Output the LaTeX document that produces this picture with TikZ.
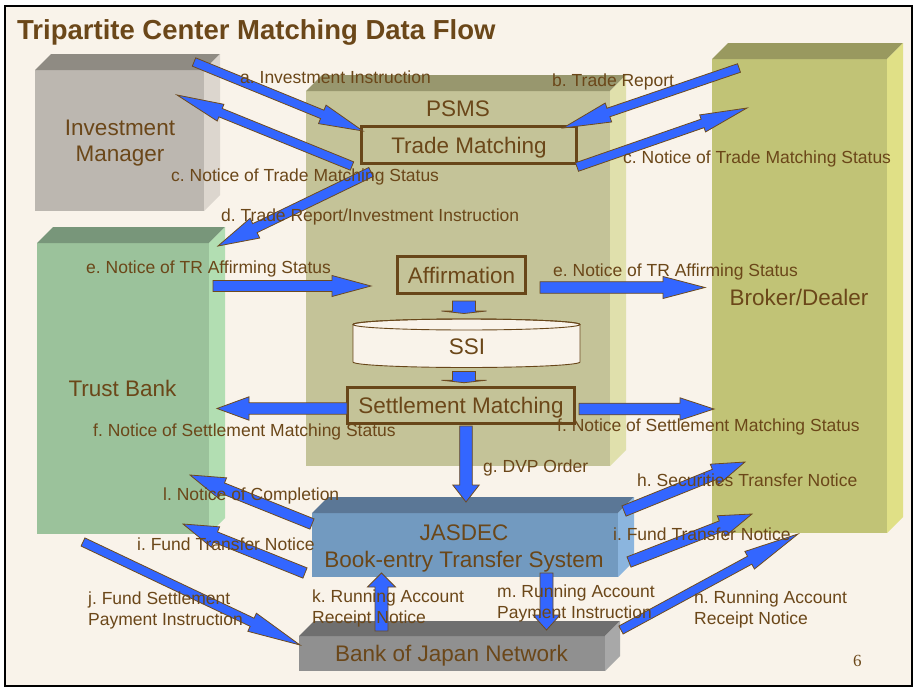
\documentclass[tikz,border=0pt]{standalone}
\usepackage{fontspec}
\setmainfont{Liberation Sans}
\newfontfamily\pgnumfont{Liberation Serif}
\frenchspacing
\usetikzlibrary{calc}
\definecolor{bg}{RGB}{249,243,234}
\definecolor{txt}{RGB}{107,71,25}
\definecolor{boxedge}{RGB}{104,70,25}
\definecolor{arrowblue}{RGB}{51,102,255}
\definecolor{arrowedge}{RGB}{110,75,30}
\definecolor{imF}{RGB}{188,183,176}\definecolor{imT}{RGB}{143,139,131}\definecolor{imS}{RGB}{220,214,206}
\definecolor{tbF}{RGB}{155,194,155}\definecolor{tbT}{RGB}{120,150,122}\definecolor{tbS}{RGB}{178,222,178}
\definecolor{psF}{RGB}{196,195,152}\definecolor{psT}{RGB}{152,151,110}\definecolor{psS}{RGB}{224,224,172}
\definecolor{bdF}{RGB}{193,195,118}\definecolor{bdT}{RGB}{153,153,95}\definecolor{bdS}{RGB}{224,224,134}
\definecolor{jsF}{RGB}{114,154,192}\definecolor{jsT}{RGB}{91,119,150}\definecolor{jsS}{RGB}{139,181,222}
\definecolor{bjF}{RGB}{144,144,144}\definecolor{bjT}{RGB}{111,111,111}\definecolor{bjS}{RGB}{168,168,168}
\tikzset{
  lbl/.style={anchor=base west, inner sep=0pt, text=txt, font=\fontsize{17.5}{21}\selectfont},
  blk/.style={anchor=base, inner sep=0pt, text=txt, font=\fontsize{22.5}{26.7}\selectfont},
  inbox/.style={draw=boxedge, line width=3pt, inner sep=0pt, text=txt, text depth=0pt,
    font=\fontsize{22.5}{27}\selectfont},
  barrow/.style={fill=arrowblue, draw=arrowedge, line width=0.8pt, line join=miter},
}
\newcommand\drawblock[8]{%
  \fill[#6] (#1,#2) rectangle (#3,#4);
  \fill[#7] (#1,#2) -- ({#1+#5},{#2-#5}) -- ({#3+#5},{#2-#5}) -- (#3,#2) -- cycle;
  \fill[#8] (#3,#2) -- ({#3+#5},{#2-#5}) -- ({#3+#5},{#4-#5}) -- (#3,#4) -- cycle;}
\newcommand\blockarrow[5]{%
  \coordinate (hb) at ($(#2)!#5!(#1)$);
  \filldraw[barrow] ($(#1)!#3!90:(#2)$) -- ($(hb)!#3!90:(#2)$) -- ($(hb)!#4!90:(#2)$) -- (#2)
    -- ($(hb)!#4!-90:(#2)$) -- ($(hb)!#3!-90:(#2)$) -- ($(#1)!#3!-90:(#2)$) -- cycle;}
\begin{document}
\begin{tikzpicture}[x=1pt,y=-1pt]
\useasboundingbox (0,0) rectangle (915,688);
\fill[white] (0,0) rectangle (915,688);
\filldraw[fill=bg, draw=black, line width=1.5pt] (5,6) rectangle (912,686);

% title
\node[anchor=base west, inner sep=0pt, text=txt, font=\fontsize{27.5}{33}\selectfont\bfseries] (title) at (17,39.5) {Tripartite Center Matching Data Flow};

% 3D blocks
\drawblock{35}{70}{204}{211}{16}{imF}{imT}{imS}
\drawblock{37}{243}{209}{534}{16}{tbF}{tbT}{tbS}
\drawblock{306}{91}{610}{466}{16}{psF}{psT}{psS}
\drawblock{712}{59}{887}{533}{16}{bdF}{bdT}{bdS}
\drawblock{312}{513}{618}{577}{16}{jsF}{jsT}{jsS}
\drawblock{299}{636}{605}{671}{15}{bjF}{bjT}{bjS}

\node[blk] (im) at (120,135) {\begin{tabular}[t]{@{}c@{}}Investment\\Manager\end{tabular}};
\node[blk] (tb) at (122.5,396.7) {Trust Bank};
\node[blk] (psms) at (458,116.7) {PSMS};
\node[blk] (bd) at (799,305) {Broker/Dealer};
\node[blk, font=\fontsize{22.5}{27}\selectfont] (jasdec) at (464,540) {\begin{tabular}[t]{@{}c@{}}JASDEC\\Book-entry Transfer System\end{tabular}};
\node[blk] (boj) at (451.5,661.7) {Bank of Japan Network};

% inner boxes
\node[inbox, minimum width=215pt, minimum height=37pt] (tm) at (469,145) {Trade Matching};
\node[inbox, minimum width=128pt, minimum height=37pt] (aff) at (461.5,275) {Affirmation};
\node[inbox, minimum width=227pt, minimum height=36pt] (sm) at (461,405.5) {Settlement Matching};

% SSI cylinder
\filldraw[fill=bg, draw=boxedge, line width=0.9pt] (353,324.5) -- (353,362)
  arc[start angle=180, end angle=360, x radius=113.5pt, y radius=5.5pt] -- (580,324.5)
  arc[start angle=0, end angle=180, x radius=113.5pt, y radius=5.5pt] -- cycle;
\draw[boxedge, line width=0.9pt] (466.5,324.5) ellipse[x radius=113.5pt, y radius=5.5pt];
\node[blk] (ssi) at (467,354.3) {SSI};

% arrow end points
\coordinate (aT) at (194,62);   \coordinate (aH) at (363,131);
\coordinate (cLT) at (352,166); \coordinate (cLH) at (177,95);
\coordinate (dT) at (371,172);  \coordinate (dH) at (218,246);
\coordinate (bT) at (739,68);   \coordinate (bH) at (563,128);
\coordinate (cRT) at (577,167); \coordinate (cRH) at (747,108);
\coordinate (eLT) at (213,286); \coordinate (eLH) at (371,286);
\coordinate (eRT) at (540,287.5); \coordinate (eRH) at (705,287.5);
\coordinate (fLT) at (347,408.5); \coordinate (fLH) at (217,408.5);
\coordinate (fRT) at (579,409); \coordinate (fRH) at (714,409);
\coordinate (gT) at (466,426);  \coordinate (gH) at (466,502);
\coordinate (hT) at (624,511);  \coordinate (hH) at (745,462);
\coordinate (iRT) at (629,562); \coordinate (iRH) at (752,514);
\coordinate (nT) at (621,630);  \coordinate (nH) at (798,534);
\coordinate (lT) at (312,524);  \coordinate (lH) at (190,475);
\coordinate (iLT) at (305,573); \coordinate (iLH) at (183,524);
\coordinate (jT) at (83,542);   \coordinate (jH) at (300,645);
\coordinate (kT) at (381.5,631); \coordinate (kH) at (381.5,573);
\coordinate (mT) at (546.5,573); \coordinate (mH) at (546.5,630);
\coordinate (s1T) at (464,301); \coordinate (s1H) at (464,313.5);
\coordinate (s2T) at (464,371.5); \coordinate (s2H) at (464,382.7);

\blockarrow{aT}{aH}{4.5pt}{10pt}{44pt}
\blockarrow{cLT}{cLH}{4.5pt}{9pt}{47pt}
\blockarrow{dT}{dH}{5pt}{11pt}{41pt}
\blockarrow{bT}{bH}{4.5pt}{10pt}{48pt}
\blockarrow{cRT}{cRH}{4.5pt}{9pt}{47pt}
\blockarrow{eLT}{eLH}{5.5pt}{10.5pt}{39pt}
\blockarrow{eRT}{eRH}{5.8pt}{11pt}{42pt}
\blockarrow{fLT}{fLH}{5.7pt}{11.7pt}{32pt}
\blockarrow{fRT}{fRH}{5.8pt}{11.2pt}{34pt}
\blockarrow{gT}{gH}{6.3pt}{13.2pt}{17pt}
\blockarrow{hT}{hH}{5.5pt}{11pt}{33pt}
\blockarrow{iRT}{iRH}{5.5pt}{11pt}{33pt}
\blockarrow{nT}{nH}{4.5pt}{10pt}{55pt}
\blockarrow{lT}{lH}{5.5pt}{11pt}{35pt}
\blockarrow{iLT}{iLH}{5.5pt}{11pt}{35pt}
\blockarrow{jT}{jH}{4.5pt}{10pt}{53pt}
\blockarrow{kT}{kH}{6.5pt}{14pt}{14pt}
\blockarrow{mT}{mH}{6.5pt}{13.5pt}{15pt}
\blockarrow{s1T}{s1H}{11.5pt}{22.5pt}{2.5pt}
\blockarrow{s2T}{s2H}{11.5pt}{22.5pt}{2.5pt}

% labels
\node[lbl] (la) at (240,83) {a. Investment Instruction};
\node[lbl] (lb) at (552,86.7) {b. Trade Report};
\node[lbl] (lcL) at (171,181.7) {c. Notice of Trade Matching Status};
\node[lbl] (lcR) at (623,163) {c. Notice of Trade Matching Status};
\node[lbl] (ld) at (221,221) {d. Trade Report/Investment Instruction};
\node[lbl] (leL) at (86,273) {e. Notice of TR Affirming Status};
\node[lbl] (leR) at (553,276) {e. Notice of TR Affirming Status};
\node[lbl] (lfL) at (93,436.7) {f. Notice of Settlement Matching Status};
\node[lbl] (lfR) at (557,431) {f. Notice of Settlement Matching Status};
\node[lbl] (lg) at (483,472) {g. DVP Order};
\node[lbl] (lh) at (637,486.7) {h. Securities Transfer Notice};
\node[lbl] (liR) at (613,540.7) {i. Fund Transfer Notice};
\node[lbl] (liL) at (137,550) {i. Fund Transfer Notice};
\node[lbl] (ll) at (163,500) {l. Notice of Completion};
\node[lbl] (lj) at (88,604) {\begin{tabular}[t]{@{}l@{}}j. Fund Settlement\\Payment Instruction\end{tabular}};
\node[lbl] (lk) at (312,602) {\begin{tabular}[t]{@{}l@{}}k. Running Account\\Receipt Notice\end{tabular}};
\node[lbl] (lm) at (497,597) {\begin{tabular}[t]{@{}l@{}}m. Running Account\\Payment Instruction\end{tabular}};
\node[lbl] (ln) at (694,603.3) {\begin{tabular}[t]{@{}l@{}}n. Running Account\\Receipt Notice\end{tabular}};

\node[anchor=base west, inner sep=0pt, text=txt, font=\pgnumfont\fontsize{17}{20}\selectfont] (pg) at (853,666) {6};
\end{tikzpicture}
\end{document}
